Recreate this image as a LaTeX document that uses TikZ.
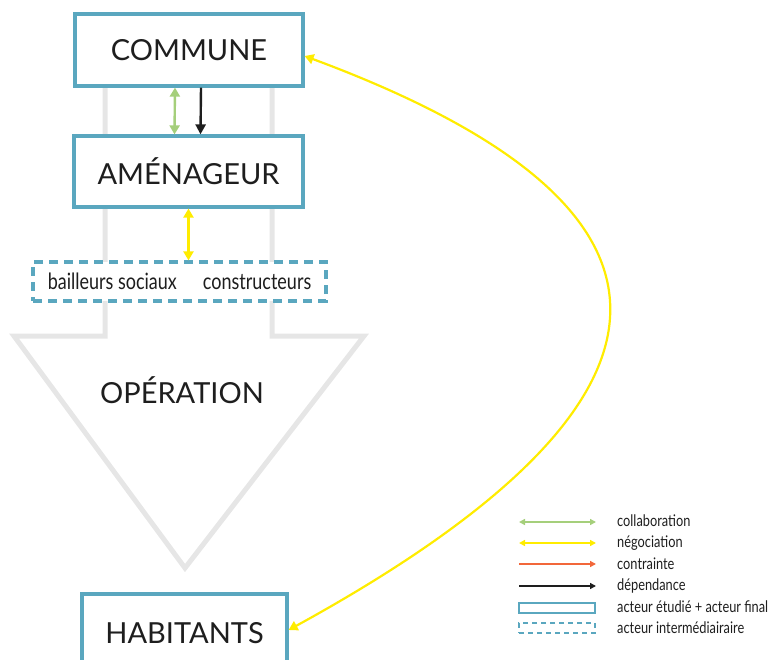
\documentclass[tikz,border=0pt]{standalone}
\usepackage{fontspec}
\setmainfont{Lato}
\newfontfamily\narrowfont[FakeStretch=0.8]{Lato}
\usetikzlibrary{arrows.meta}
\definecolor{boxblue}{HTML}{5AA7BF}
\definecolor{collabgreen}{HTML}{A5CF7B}
\definecolor{negoyellow}{HTML}{FFEC00}
\definecolor{constorange}{HTML}{F2673A}
\definecolor{depblack}{HTML}{1E1E1E}
\definecolor{opgrey}{HTML}{E6E6E6}
\begin{document}
\begin{tikzpicture}[x=1pt,y=-1pt,
		acteur/.style={draw=boxblue, line width=3.2pt, fill=white, inner sep=0pt, text=depblack, font=\fontsize{29}{31}\selectfont},
		interm/.style={draw=boxblue, line width=3.2pt, dash pattern=on 9pt off 6pt, fill=white, inner sep=0pt, text=depblack, font=\narrowfont\fontsize{22.5}{24}\selectfont},
		collab/.style={collabgreen, line width=2.4pt, {Triangle[length=9pt,width=10pt]}-{Triangle[length=9pt,width=10pt]}},
		nego/.style={negoyellow, line width=2.4pt, {Triangle[length=9pt,width=10pt]}-{Triangle[length=9pt,width=10pt]}},
		dep/.style={depblack, line width=2.4pt, -{Triangle[length=10pt,width=10pt]}},
		legarrow/.style={line width=2.2pt, shorten <=1pt},
		legtext/.style={anchor=west, inner sep=0pt, text=depblack, font=\narrowfont\fontsize{16}{18}\selectfont}]
	\useasboundingbox (0,0) rectangle (774,659);

	% Operation arrow
	\draw[opgrey, line width=5pt, line join=miter] (105,86) -- (105,336) -- (14,336) -- (185,568) -- (364,336) -- (272,336) -- (272,86);
	\node[text=depblack, font=\fontsize{29}{31}\selectfont] (op) at (182,390) {OPÉRATION};

	% Actors
	\node[acteur, minimum width=228pt, minimum height=72pt] (com) at (189,50) {COMMUNE};
	\node[acteur, minimum width=229pt, minimum height=71pt] (amen) at (188.5,171.5) {AMÉNAGEUR};
	\node[interm, minimum width=293pt, minimum height=39pt] (inter) at (179.5,281.5) {bailleurs sociaux\hspace{26pt}constructeurs};
	\node[acteur, minimum width=205pt, minimum height=78pt] (hab) at (184.5,633) {HABITANTS};

	% Edges
	\draw[collab] ([xshift=-14pt]com.south) -- ([xshift=-14pt]amen.north);
	\draw[dep] ([xshift=12pt]com.south) -- ([xshift=12pt]amen.north);
	\draw[nego] (amen.south) -- (amen.south |- inter.north);
	\draw[nego, line width=2.2pt] ([yshift=3pt]hab.east) .. controls (657,428) and (763,226) .. ([yshift=-6pt]com.east);

	% Legend
	\coordinate (l1a) at (518,522); \coordinate (l1b) at (596,522);
	\coordinate (l2a) at (518,543); \coordinate (l2b) at (596,543);
	\coordinate (l3a) at (518,564); \coordinate (l3b) at (596,564);
	\coordinate (l4a) at (518,586); \coordinate (l4b) at (596,586);
	\draw[legarrow, collabgreen, {Triangle[length=6pt,width=6pt]}-{Triangle[length=6pt,width=6pt]}] (l1a) -- (l1b);
	\draw[legarrow, negoyellow, {Triangle[length=6pt,width=6pt]}-{Triangle[length=6pt,width=6pt]}] (l2a) -- (l2b);
	\draw[legarrow, constorange, -{Triangle[length=6pt,width=6pt]}] (l3a) -- (l3b);
	\draw[legarrow, depblack, -{Triangle[length=6pt,width=6pt]}] (l4a) -- (l4b);
	\node[draw=boxblue, line width=2pt, minimum width=76pt, minimum height=10pt, inner sep=0pt] (l5) at (557,607.5) {};
	\node[draw=boxblue, line width=2pt, dash pattern=on 5pt off 4pt, minimum width=76pt, minimum height=10pt, inner sep=0pt] (l6) at (557,628) {};
	\node[legtext] (t1) at (617,521) {collaboration};
	\node[legtext] (t2) at (617,543) {négociation};
	\node[legtext] (t3) at (617,564) {contrainte};
	\node[legtext] (t4) at (617,586) {dépendance};
	\node[legtext] (t5) at (617,607) {acteur étudié + acteur final};
	\node[legtext] (t6) at (617,628) {acteur intermédiairaire};
\end{tikzpicture}
\end{document}
